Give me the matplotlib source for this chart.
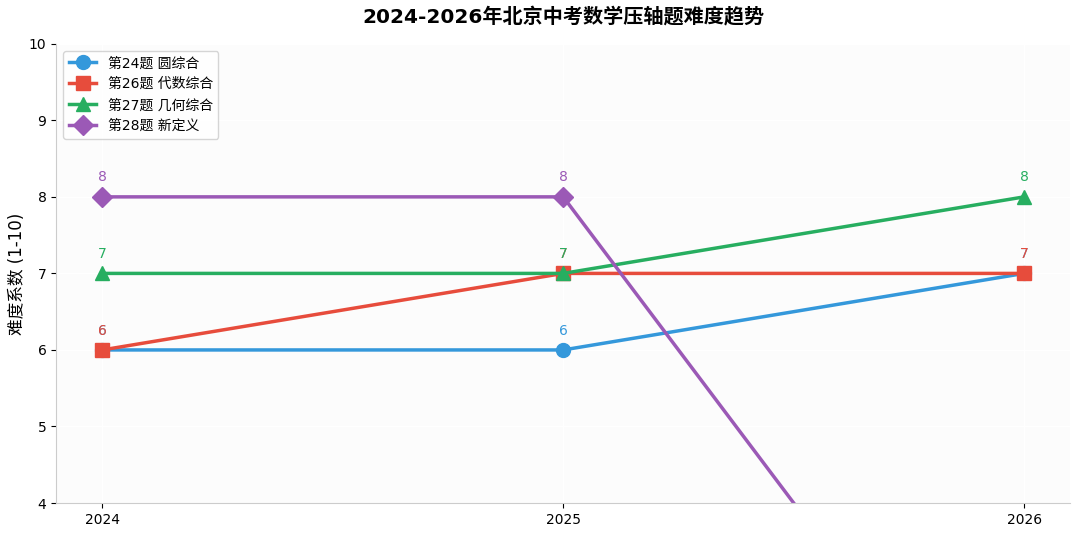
import matplotlib
matplotlib.use("Agg")
import matplotlib.pyplot as plt

plt.rcParams['font.family'] = ['DejaVu Sans', 'Noto Sans CJK SC']
plt.rcParams['axes.unicode_minus'] = False

# data
years = [2024, 2025, 2026]
series_names = ["第24题 圆综合", "第26题 代数综合", "第27题 几何综合", "第28题 新定义"]
q24 = [6, 6, 7]
q26 = [6, 7, 7]
q27 = [7, 7, 8]
q28 = [8, 8, 0]

colors = ['#3498db', '#e74c3c', '#27ae60', '#9b59b6']
markers = ['o', 's', '^', 'D']

fig, ax = plt.subplots(figsize=(10.8, 5.34), dpi=100)
ax.set_facecolor('#fcfcfc')

for vals, name, c, m in zip([q24, q26, q27, q28], series_names, colors, markers):
    ax.plot(years, vals, color=c, marker=m, markersize=10, linewidth=2.5, label=name)
    for x, y in zip(years, vals):
        # annotate hides labels whose point is outside the axes
        ax.annotate(str(y), (x, y), textcoords='offset points', xytext=(0, 14),
                    ha='center', va='center', fontsize=10, color=c)

ax.set_xlim(2023.9, 2026.1)
ax.set_ylim(4, 10)
ax.set_xticks(years)
ax.set_xticklabels([str(y) for y in years])
ax.set_ylabel("难度系数 (1-10)", fontsize=12, labelpad=2)
ax.set_title("2024-2026年北京中考数学压轴题难度趋势", fontsize=14.5, fontweight='bold', pad=15)
ax.grid(True, color='white', linewidth=0.8)
ax.spines['top'].set_visible(False)
ax.spines['right'].set_visible(False)
ax.spines['left'].set_color('#cccccc')
ax.spines['bottom'].set_color('#cccccc')
ax.legend(loc='upper left', fontsize=10)

plt.subplots_adjust(left=0.052, right=0.991, top=0.918, bottom=0.058)
plt.savefig("out.png", dpi=100)
